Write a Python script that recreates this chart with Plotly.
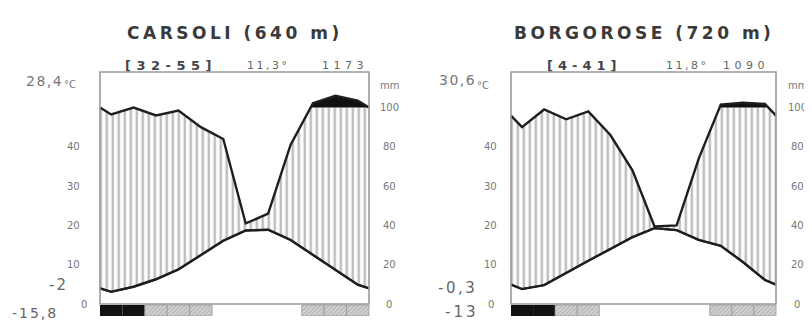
import plotly.graph_objects as go

# ---------------- data ----------------
months = ["Jan", "Feb", "Mar", "Apr", "May", "Jun", "Jul", "Aug", "Sep", "Oct", "Nov", "Dec"]

carsoli_temp = [3.1, 4.4, 6.3, 8.8, 12.4, 16.1, 18.7, 18.9, 16.3, 12.5, 8.7, 4.9]
carsoli_prec = [96.5, 100, 96, 98.5, 90, 84, 41, 46, 81, 122, 160, 135]
carsoli_frost = [2, 2, 1, 1, 1, 0, 0, 0, 0, 1, 1, 1]   # 2 = black, 1 = hatched

borgo_temp = [3.8, 4.8, 8.0, 11.0, 14.0, 17.0, 19.3, 18.8, 16.3, 14.8, 10.7, 6.1]
borgo_prec = [90, 99, 94, 98, 86, 68, 39.5, 40, 74, 115, 125, 118]
borgo_frost = [2, 2, 1, 1, 0, 0, 0, 0, 0, 1, 1, 1]

temp_ticks = [0, 10, 20, 30, 40]
prec_ticks = [0, 20, 40, 60, 80, 100]

stations = [
    dict(name="CARSOLI (640 m)", period="[32-55]", tmean="11,3°", ptot="1173",
         tmax="28,4", tmin_mean="-2", tmin_abs="-15,8",
         temp=carsoli_temp, prec=carsoli_prec, frost=carsoli_frost),
    dict(name="BORGOROSE (720 m)", period="[4-41]", tmean="11,8°", ptot="1090",
         tmax="30,6", tmin_mean="-0,3", tmin_abs="-13",
         temp=borgo_temp, prec=borgo_prec, frost=borgo_frost),
]

# ---------------- layout geometry ----------------
OFF = 8                     # page body margin of the viewer
WIN_W, WIN_H = 812, 320
W, H = WIN_W - OFF, WIN_H - OFF
PLOT_TOP, PLOT_BOT = 70, 316     # window pixels of the plotting area
MT, MB = PLOT_TOP - OFF, WIN_H - PLOT_BOT
Y_RANGE = [-3.05, 59.55]
FRAME_TOP = 59.04
boxes = [(100, 369), (511, 776)]   # window pixel edges of each diagram box
X_RANGE = [-0.1, 12.1]
CAP = 50  # 100 mm in temperature units

def disp(p):
    """Walter-Lieth precipitation scale in temperature units (20 mm = 10 °C, 1/10 above 100 mm)."""
    return p / 2.0 if p <= 100 else 50 + (p - 100) / 20.0

def with_crossings(xs, ys, level):
    """Insert the points where the polyline crosses `level` so fills split cleanly."""
    ox, oy = [xs[0]], [ys[0]]
    for i in range(1, len(xs)):
        y0, y1 = ys[i - 1], ys[i]
        if (y0 - level) * (y1 - level) < 0:
            f = (level - y0) / (y1 - y0)
            ox.append(xs[i - 1] + f * (xs[i] - xs[i - 1]))
            oy.append(level)
        ox.append(xs[i]); oy.append(ys[i])
    return ox, oy

fig = go.Figure()
annotations = []
shapes = []

def xpaper(px):
    return (px - OFF) / W

def px2paper(px, py):
    return xpaper(px), (PLOT_BOT - py) / (PLOT_BOT - PLOT_TOP)

FONT = "DejaVu Sans"

def ann(text, px, py, size, color="#666", bold=False, spacing=0, xanchor="center"):
    x, y = px2paper(px, py)
    t = text
    if spacing:
        t = '<span style="letter-spacing:%spx">%s</span>' % (spacing, t)
    annotations.append(dict(
        text=t, x=x, y=y, xref="paper", yref="paper", showarrow=False,
        xanchor=xanchor, yanchor="middle",
        font=dict(family=FONT, size=size, color=color,
                  weight="bold" if bold else "normal")))

hatch = dict(shape="|", size=6, solidity=0.42, fgcolor="#7c7c7c", bgcolor="white")

for k, st in enumerate(stations):
    xa = "x" if k == 0 else "x2"
    ya = "y" if k == 0 else "y2"
    xs = [0] + [i + 0.5 for i in range(12)] + [12]
    d = [disp(p) for p in st["prec"]]
    ed = (d[0] + d[-1]) / 2
    dline = [ed] + d + [ed]
    t = st["temp"]
    et = (t[0] + t[-1]) / 2
    tline = [et] + t + [et]
    cx_, cy_ = with_crossings(xs, dline, CAP)
    capped = [min(v, CAP) for v in cy_]
    top = [max(v, CAP) for v in cy_]

    fig.add_trace(go.Scatter(x=xs, y=tline, mode="lines", line=dict(color="#222", width=2),
                             xaxis=xa, yaxis=ya, hoverinfo="skip"))
    fig.add_trace(go.Scatter(x=cx_, y=capped, mode="lines", line=dict(width=0),
                             fill="tonexty", fillcolor="white", fillpattern=hatch,
                             xaxis=xa, yaxis=ya, hoverinfo="skip"))
    fig.add_trace(go.Scatter(x=cx_, y=[CAP] * len(cx_), mode="lines", line=dict(width=0),
                             xaxis=xa, yaxis=ya, hoverinfo="skip"))
    fig.add_trace(go.Scatter(x=cx_, y=top, mode="lines", line=dict(width=0),
                             fill="tonexty", fillcolor="#111",
                             xaxis=xa, yaxis=ya, hoverinfo="skip"))
    fig.add_trace(go.Scatter(x=xs, y=dline, mode="lines", line=dict(color="#1e1e1e", width=2.4),
                             xaxis=xa, yaxis=ya, hoverinfo="skip"))
    fig.add_trace(go.Scatter(x=xs, y=tline, mode="lines", line=dict(color="#1e1e1e", width=2.4),
                             xaxis=xa, yaxis=ya, hoverinfo="skip"))

    mx = [i + 0.5 for i in range(12)]
    bx = [m for m, f in zip(mx, st["frost"]) if f == 2]
    hx = [m for m, f in zip(mx, st["frost"]) if f == 1]
    fig.add_trace(go.Bar(x=bx, y=[-2.8] * len(bx), base=-0.25, width=1.0,
                         marker=dict(color="#111", line=dict(width=0)),
                         xaxis=xa, yaxis=ya, hoverinfo="skip"))
    fig.add_trace(go.Bar(x=hx, y=[-2.8] * len(hx), base=-0.25, width=1.0,
                         marker=dict(color="#c8c8c8", line=dict(width=0.8, color="#999"),
                                     pattern=dict(shape="/", size=3, solidity=0.35,
                                                  fgcolor="#888", bgcolor="#d4d4d4")),
                         xaxis=xa, yaxis=ya, hoverinfo="skip"))

    shapes.append(dict(type="rect", xref=xa, yref=ya, x0=0, x1=12, y0=0, y1=FRAME_TOP,
                       line=dict(color="#9a9a9a", width=1.6), fillcolor="rgba(0,0,0,0)"))

    bl, br = boxes[k]
    cx = (bl + br) / 2
    ann(st["name"], cx, 33, 17, color="#3a3a3a", bold=True, spacing=3.5)
    if k == 0:
        ann(st["period"], 171, 65, 13, color="#444", bold=True, spacing=5.5)
        ann(st["tmean"], 268, 66, 11, color="#666", spacing=2.5)
        ann(st["ptot"], 345, 66, 11, color="#666", spacing=4.5)
        ann(st["tmax"], 44, 81, 14, color="#777", spacing=1.5)
        ann("°C", 70, 84, 10, color="#777")
        ann(st["tmin_mean"], 58, 285, 15, color="#666", spacing=2)
        ann(st["tmin_abs"], 35, 313, 14, color="#666", spacing=2)
        tx = {0: 84}
        tdef = 73
        mmx = 389
    else:
        ann(st["period"], 584, 65, 13, color="#444", bold=True, spacing=5)
        ann(st["tmean"], 687, 66, 11, color="#666", spacing=2.5)
        ann(st["ptot"], 746, 66, 11, color="#666", spacing=4.5)
        ann(st["tmax"], 457, 80, 14, color="#777", spacing=1.5)
        ann("°C", 483, 85, 10, color="#777")
        ann(st["tmin_mean"], 458, 288, 15, color="#666", spacing=2.5)
        ann(st["tmin_abs"], 462, 312, 15, color="#666", spacing=3)
        tx = {0: 491}
        tdef = 490
        mmx = 797
    for tv in temp_ticks:
        annotations.append(dict(text=str(tv), x=xpaper(tx.get(tv, tdef)), y=tv,
                                xref="paper", yref=ya, showarrow=False,
                                xanchor="center", yanchor="middle",
                                font=dict(family=FONT, size=10, color="#777")))
    for pv in prec_ticks:
        annotations.append(dict(text=str(pv), x=xpaper(mmx), y=disp(pv),
                                xref="paper", yref=ya, showarrow=False,
                                xanchor="center", yanchor="middle",
                                font=dict(family=FONT, size=10, color="#777")))
    ann("mm", mmx, 85, 10, color="#777")

def dom(bl, br):
    ppm = (br - bl) / 12.0
    return [xpaper(bl - 0.1 * ppm), xpaper(br + 0.1 * ppm)]

ax_common = dict(range=X_RANGE, showgrid=False, zeroline=False, showticklabels=False,
                 showline=False, ticks="", fixedrange=True)
ay_common = dict(range=Y_RANGE, showgrid=False, zeroline=False, showticklabels=False,
                 showline=False, ticks="", fixedrange=True)

fig.update_layout(
    width=W, height=H,
    margin=dict(l=0, r=0, t=MT, b=MB),
    paper_bgcolor="white", plot_bgcolor="white",
    showlegend=False, barmode="overlay",
    xaxis=dict(domain=dom(*boxes[0]), anchor="y", **ax_common),
    yaxis=dict(domain=[0, 1], anchor="x", **ay_common),
    xaxis2=dict(domain=dom(*boxes[1]), anchor="y2", **ax_common),
    yaxis2=dict(domain=[0, 1], anchor="x2", **ay_common),
    annotations=annotations,
    shapes=shapes,
)

fig.write_html("out.html")
